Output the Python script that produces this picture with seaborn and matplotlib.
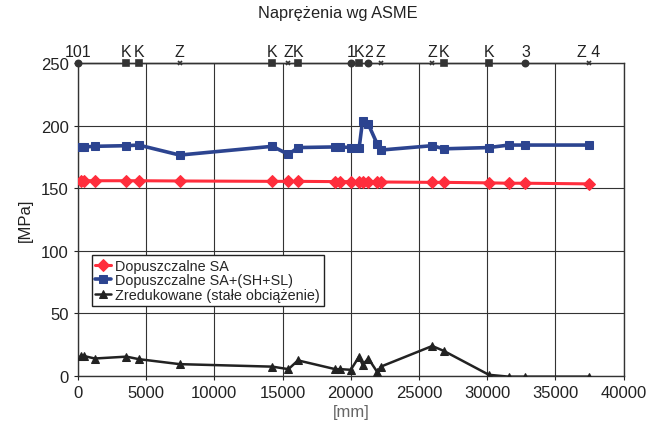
import numpy as np
import pandas as pd
import matplotlib
matplotlib.use('Agg')
import matplotlib.pyplot as plt
import seaborn as sns

# positions along the pipe [mm]
dist_mm = [200, 440, 1240, 3560, 4460, 7460, 14260, 15430, 16130, 18860, 19230,
           20000, 20610, 20860, 21290, 21950, 22200, 25970, 26830, 30120, 31580,
           32800, 37430]
sa = [156.0, 156.0, 156.0, 156.0, 156.0, 155.8, 155.5, 155.5, 155.5, 155.3, 155.3,
      155.3, 155.0, 155.0, 155.0, 155.0, 155.0, 154.7, 154.7, 154.3, 154.0,
      154.0, 153.5]
sa_sh_sl = [183.0, 183.0, 183.5, 184.0, 184.5, 176.5, 183.5, 177.0, 182.5, 183.0, 183.0,
            182.5, 182.0, 203.5, 201.0, 185.0, 180.5, 184.0, 181.5, 182.5, 184.5,
            184.5, 184.5]
zred = [16.0, 16.0, 14.0, 15.5, 13.5, 9.5, 7.5, 5.5, 12.5, 5.5, 5.5,
        5.0, 15.5, 9.0, 14.0, 3.0, 7.5, 24.0, 20.0, 1.0, -0.5,
        -0.5, -0.5]

# nodes marked along the top edge
node_x = [0, 3560, 4460, 7460, 14260, 15430, 16130, 20000, 20610, 21290, 22200,
          25970, 26830, 30120, 32800, 37430]
node_txt = ['101', 'K', 'K', 'Z', 'K', 'Z', 'K', '1', 'K', '2', 'Z',
            'Z', 'K', 'K', '3', 'Z 4']
node_kind = ['pt', 'K', 'K', 'Z', 'K', 'Z', 'K', 'pt', 'K', 'pt', 'Z',
             'Z', 'K', 'K', 'pt', 'Z']

sns.set_style('white')
plt.rcParams['font.family'] = ['Liberation Sans', 'DejaVu Sans']

fig = plt.figure(figsize=(6.49, 4.27), dpi=100)
ax = fig.add_axes([0.120, 0.117, 0.841, 0.733])

df = pd.DataFrame({'x': dist_mm, 'sa': sa, 'sash': sa_sh_sl, 'zr': zred})

sns.lineplot(data=df, x='x', y='sa', ax=ax, color='#ff2d3c', lw=2.2, marker='D',
             markersize=6.5, markeredgecolor='#ff2d3c', sort=False, estimator=None,
             label='Dopuszczalne SA', zorder=4)
sns.lineplot(data=df, x='x', y='sash', ax=ax, color='#2c4490', lw=2.6, marker='s',
             markersize=6, markeredgecolor='#2c4490', sort=False, estimator=None,
             label='Dopuszczalne SA+(SH+SL)', zorder=4)
sns.lineplot(data=df, x='x', y='zr', ax=ax, color='#222222', lw=1.8, marker='^',
             markersize=6, markeredgecolor='#222222', sort=False, estimator=None,
             label='Zredukowane (stałe obciążenie)', zorder=4)

# top node line
nodes = pd.DataFrame({'x': node_x, 'y': 250, 'kind': node_kind})
ax.plot(nodes['x'], nodes['y'], color='#333333', lw=1.0, zorder=5, clip_on=False)
mk = {'pt': 'o', 'K': 's', 'Z': 'x'}
ms = {'pt': 4.5, 'K': 4.5, 'Z': 3.5}
for kind in ['pt', 'K', 'Z']:
    sub = nodes[nodes['kind'] == kind]
    ax.plot(sub['x'], sub['y'], ls='none', marker=mk[kind], ms=ms[kind],
            color='#333333', mew=1.2, zorder=6, clip_on=False)
for xv, t in zip(node_x, node_txt):
    ax.text(xv, 253, t, ha='center', va='bottom', fontsize=11.5, color='#222222')

ax.set_xlim(0, 40000)
ax.set_ylim(0, 250)
ax.set_xticks(np.arange(0, 40001, 5000))
ax.set_yticks(np.arange(0, 251, 50))
ax.grid(True, color='#333333', lw=0.8)
ax.set_axisbelow(True)
for s in ax.spines.values():
    s.set_color('#333333')
    s.set_linewidth(1.0)
ax.tick_params(labelsize=12, colors='#222222', length=3, direction='out',
               left=True, bottom=True)
ax.set_xlabel('[mm]', fontsize=12, color='#666666', labelpad=3)
ax.set_ylabel('[MPa]', fontsize=12, color='#222222', labelpad=6)

leg = ax.legend(loc='lower left', bbox_to_anchor=(0.025, 0.225), fontsize=10.4,
                frameon=True, fancybox=False, edgecolor='#222222', framealpha=1,
                handlelength=1.1, handletextpad=0.3, borderpad=0.25,
                labelspacing=0.05, borderaxespad=0)
leg.get_frame().set_linewidth(1.0)

fig.text(0.52, 0.968, 'Naprężenia wg ASME', ha='center', va='center',
         fontsize=11.8, color='#222222')

fig.savefig('out.png', dpi=100)
